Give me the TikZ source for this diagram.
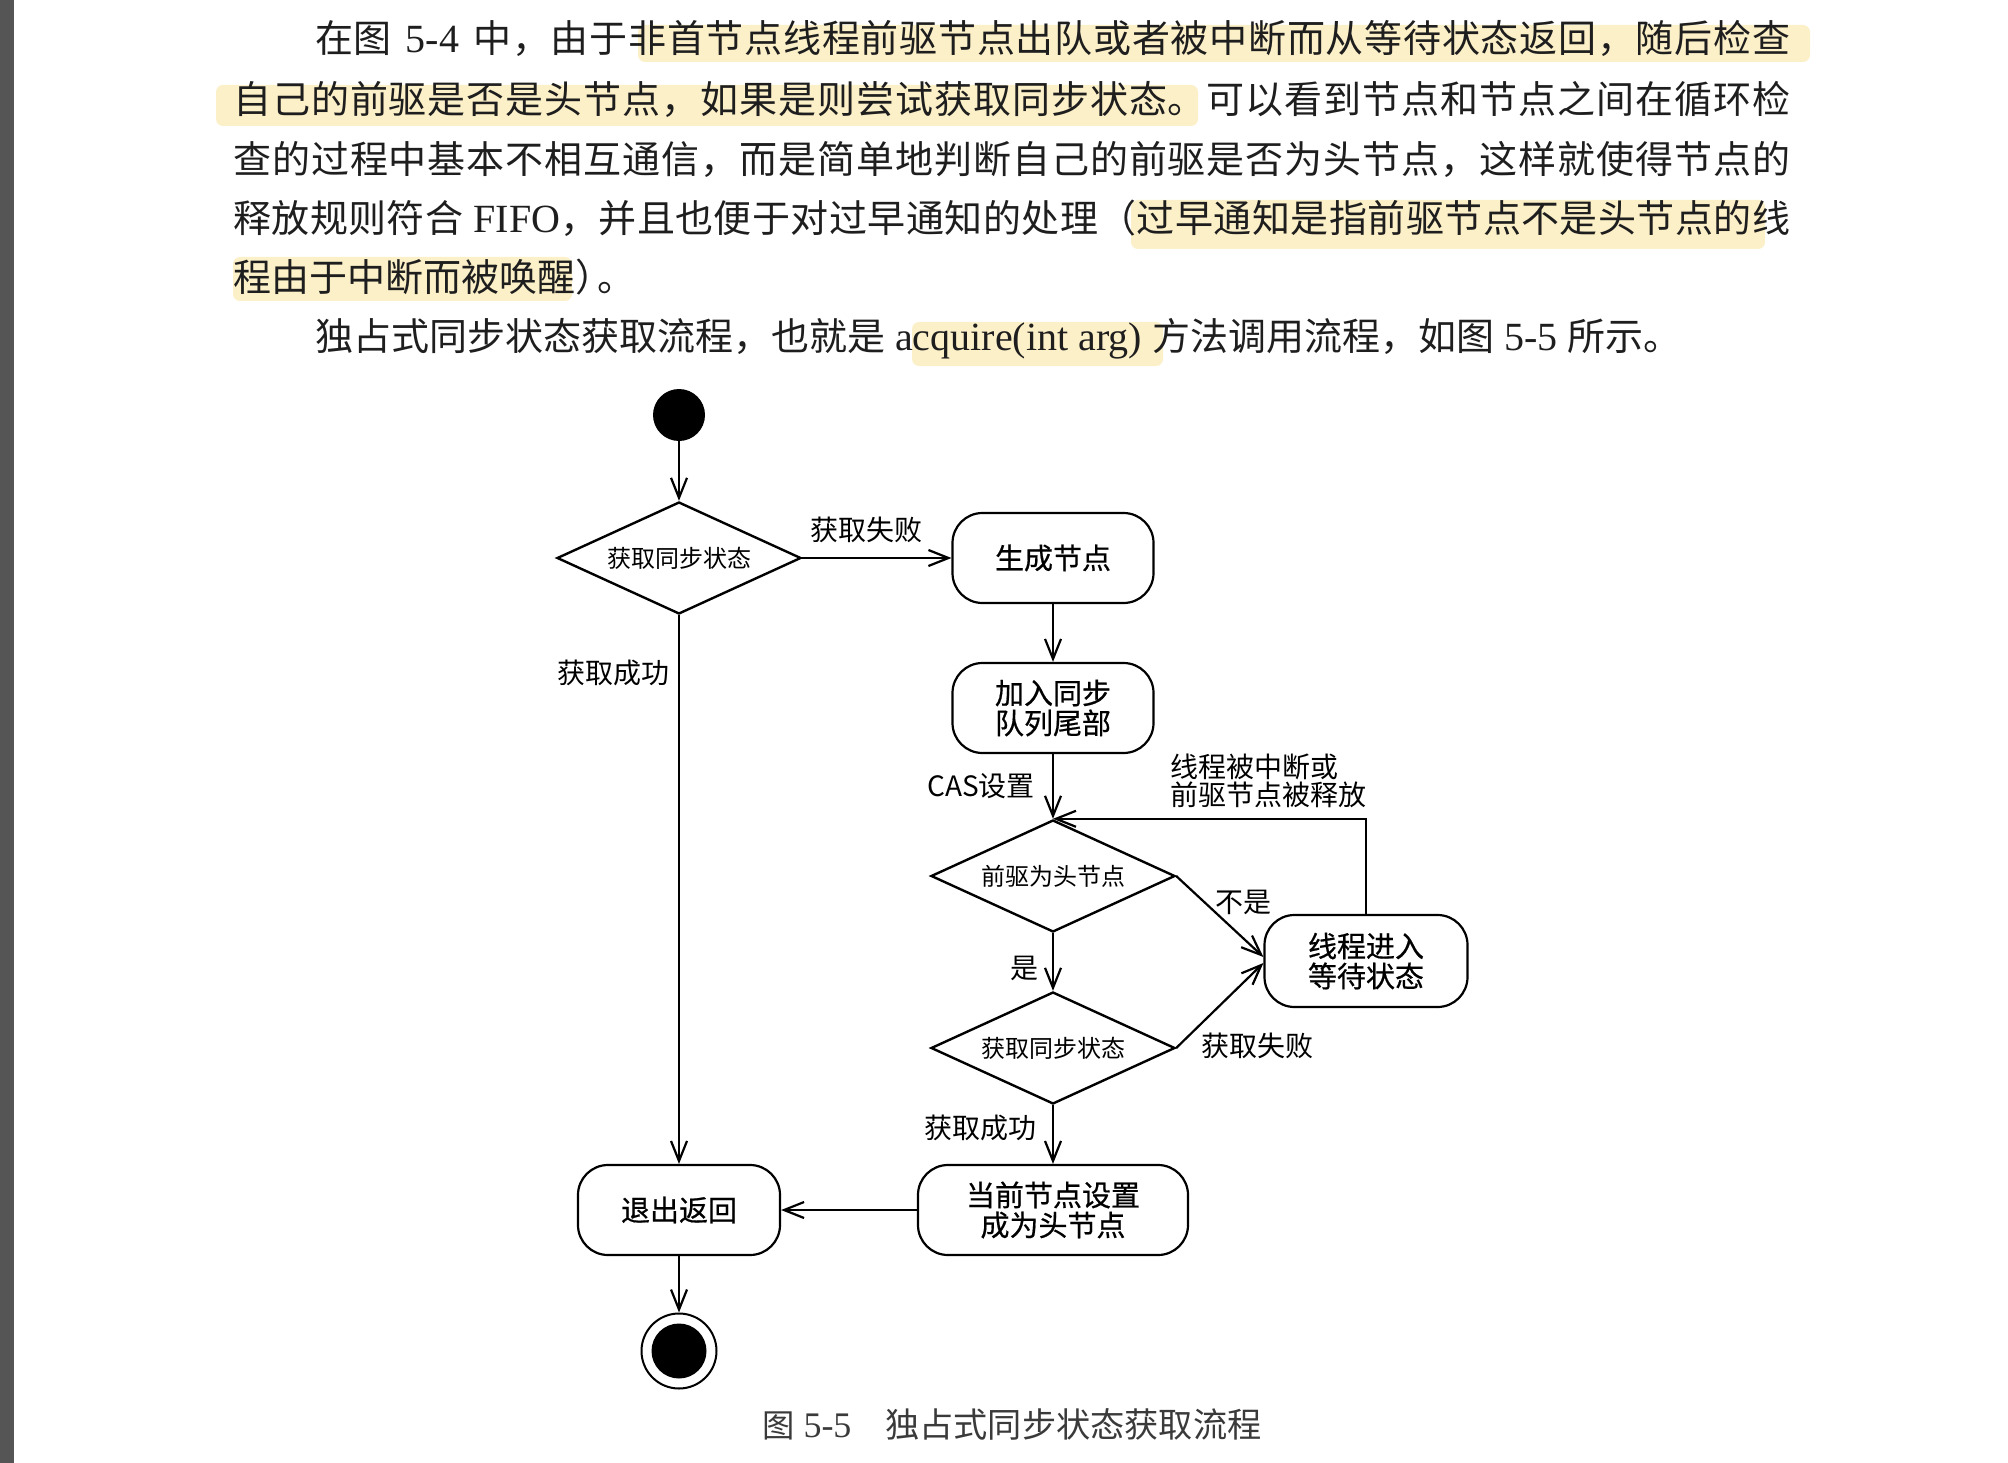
\documentclass[tikz,border=0pt]{standalone}
\usepackage{fontspec}
\setmainfont{Liberation Serif}
\newfontfamily\cjkbody[Scale=0.95]{Noto Sans CJK SC}
\newfontfamily\diafont{Noto Sans CJK SC}
\newfontfamily\diabold[FakeBold=0.6]{Noto Sans CJK SC}
\usetikzlibrary{arrows.meta,shapes.geometric}

% spread a run of CJK characters: stretchable glue between every two characters
\def\jst#1{\jstfirst#1\relax}
\def\jstfirst#1{#1\jstrest}
\def\jstrest#1{\ifx#1\relax\else\hskip0pt plus 1fil\relax#1\expandafter\jstrest\fi}

\definecolor{ink}{HTML}{1E1E1E}
\definecolor{hl}{HTML}{FCF0C9}
\definecolor{strip}{HTML}{555555}
\definecolor{capink}{HTML}{3A3A3A}

\begin{document}
\begin{tikzpicture}[x=1pt,y=-1pt,
  body/.style={anchor=base west,inner sep=0pt,text=ink,font=\fontsize{40}{40}\selectfont},
  hlbox/.style={fill=hl,rounded corners=7pt},
  flow/.style={line width=2.2pt,-{Straight Barb[length=20pt,width=16pt]}},
  act/.style={draw,line width=2.2pt,rounded corners=30pt,minimum width=#1,minimum height=90pt,
    align=center,inner sep=0pt,font=\diabold\fontsize{29}{30}\selectfont},
  dec/.style={draw,diamond,aspect=2.2,line width=2.4pt,minimum width=244pt,minimum height=112pt,
    inner sep=0pt,font=\diafont\fontsize{24}{24}\selectfont},
  lab/.style={inner sep=0pt,align=left,font=\diafont\fontsize{28}{28}\selectfont},
]
% page and left margin strip
\fill[white] (0,0) rectangle (2008,1463);
\useasboundingbox (0,0) rectangle (2008,1463);
\fill[strip] (0,0) rectangle (14,1463);

% marker highlights
\fill[hlbox] (638,25) rectangle (1810,62);
\fill[hlbox] (216,85) rectangle (1198,126);
\fill[hlbox] (1131,200) rectangle (1765,249);
\fill[hlbox] (233,257) rectangle (572,301);
\fill[hlbox] (912,322) rectangle (1163,366);

% body text
\node[body] (t1) at (315,53) {\hbox to 1475pt{{\cjkbody\jst{在图}}\hspace{14pt}5-4\hspace{14pt}{\cjkbody\jst{中，由于非首节点线程前驱节点出队或者被中断而从等待状态返回，随后检查}}}};
\node[body] (t2) at (233,114) {\hbox to 1557pt{\cjkbody\jst{自己的前驱是否是头节点，如果是则尝试获取同步状态。可以看到节点和节点之间在循环检}}};
\node[body] (t3) at (233,174) {\hbox to 1557pt{\cjkbody\jst{查的过程中基本不相互通信，而是简单地判断自己的前驱是否为头节点，这样就使得节点的}}};
\node[body] (t4) at (233,233) {\hbox to 1557pt{{\cjkbody\jst{释放规则符合}}\hspace{10pt}FIFO{\cjkbody\jst{，并且也便于对过早通知的处理（过早通知是指前驱节点不是头节点的线}}}};
\node[body] (t5) at (233,292) {\cjkbody 程由于中断而被唤醒）\kern-16pt 。};
\node[body] (t6) at (315,350) {{\cjkbody 独占式同步状态获取流程，也就是} acquire(int arg) {\cjkbody 方法调用流程，如图} 5-5 {\cjkbody 所示。}};

% activity diagram
\node[circle,fill=black,minimum size=52pt,inner sep=0pt] (start) at (679,415) {};
\node[dec] (d1) at (679,558) {获取同步状态};
\node[act=201pt] (n1) at (1053,558) {生成节点};
\node[act=201pt] (n2) at (1053,708) {加入同步\\队列尾部};
\node[dec] (d2) at (1053,876) {前驱为头节点};
\node[act=203pt,minimum height=92pt] (n3) at (1366,961) {线程进入\\等待状态};
\node[dec] (d3) at (1053,1048) {获取同步状态};
\node[act=270pt] (n4) at (1053,1210) {当前节点设置\\成为头节点};
\node[act=202pt] (n5) at (679,1210) {退出返回};
\node[circle,draw,line width=2pt,minimum size=75pt,inner sep=0pt] (stop) at (679,1351) {};
\node[circle,fill=black,minimum size=55pt,inner sep=0pt] (stopdot) at (stop.center) {};

\draw[flow] (start) -- (d1.north);
\draw[flow] (d1.east) -- (n1.west);
\draw[flow] (d1.south) -- (n5.north);
\draw[flow] (n1) -- (n2);
\draw[flow] (n2) -- (d2.north);
\draw[flow] (d2.south) -- (d3.north);
\draw[flow] (d2.east) -- ([yshift=4pt]n3.west);
\draw[flow] (d3.east) -- ([yshift=-2pt]n3.west);
\draw[flow] (n3.north) |- (d2.north);
\draw[flow] (d3.south) -- (n4.north);
\draw[flow] (n4.west) -- (n5.east);
\draw[flow] (n5) -- (stop);

% edge labels
\node[lab] (l1) at (866,530) {获取失败};
\node[lab] (l2) at (613,673) {获取成功};
\node[lab] (l3) at (981,786) {CAS设置};
\node[lab,anchor=west] (l4) at (1170,781) {线程被中断或\\前驱节点被释放};
\node[lab] (l5) at (1243,902) {不是};
\node[lab] (l6) at (1024,968) {是};
\node[lab] (l7) at (1257,1046) {获取失败};
\node[lab] (l8) at (980,1128) {获取成功};

% caption
\node[body,text=capink,font=\fontsize{36}{36}\selectfont] (cap1) at (762,1437) {{\fontsize{34}{34}\cjkbody 图} 5-5};
\node[body,text=capink,font=\fontsize{36}{36}\selectfont] (cap2) at (885,1437) {\cjkbody 独占式同步状态获取流程};
\end{tikzpicture}
\end{document}
